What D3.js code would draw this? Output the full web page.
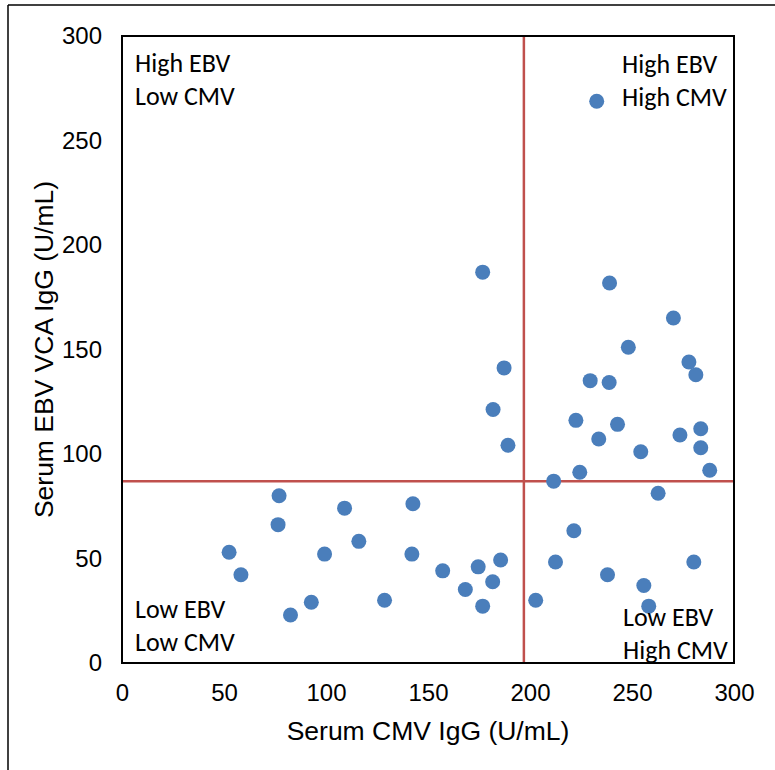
<!DOCTYPE html>
<html>
<head>
<meta charset="utf-8">
<title>EBV vs CMV</title>
<script src="https://d3js.org/d3.v7.min.js"></script>
<style>
  body { margin: 0; background: #fff; }
  .tick text { font-family: "Liberation Sans", Arial, sans-serif; font-size: 24px; fill: #000; }
  .quad { font-family: Carlito, Calibri, "Open Sans", sans-serif; font-size: 26px; fill: #000; }
</style>
</head>
<body>
<svg id="viz" width="775" height="770"></svg>
<script>
// serum CMV IgG (x) and EBV VCA IgG (y), U/mL
var cmv = [232.7, 176.8, 239.0, 270.3, 248.2, 187.3, 277.9, 281.3, 229.5, 238.8,
           181.9, 222.5, 242.9, 283.7, 233.7, 273.5, 189.2, 254.3, 283.7, 224.4,
           288.1, 211.6, 262.8, 77.0, 142.6, 109.1, 76.5, 221.5, 116.1, 52.5,
           99.3, 142.1, 185.6, 212.5, 280.3, 174.6, 157.2, 58.3, 238.0, 181.7,
           255.8, 168.3, 92.8, 128.7, 202.8, 176.8, 258.2, 82.6];
var ebv = [268.8, 187.0, 181.8, 165.1, 151.1, 141.2, 144.0, 137.9, 135.1, 134.2,
           121.3, 116.1, 114.2, 112.1, 107.2, 109.1, 104.2, 101.1, 103.0, 91.3,
           92.2, 87.0, 81.2, 80.0, 76.2, 74.1, 66.2, 63.3, 58.2, 53.0,
           52.1, 52.1, 49.3, 48.3, 48.3, 46.0, 44.1, 42.2, 42.2, 38.9,
           37.1, 35.2, 29.1, 30.0, 30.0, 27.2, 27.2, 23.0];
var xTicks = [0, 50, 100, 150, 200, 250, 300];
var yTicks = [0, 50, 100, 150, 200, 250, 300];
var cutCMV = 197;
var cutEBV = 87;

var svg = d3.select("#viz");

// outer frame (only left and top visible)
svg.append("line").attr("x1", 8).attr("y1", 5).attr("x2", 8).attr("y2", 770)
  .attr("stroke", "#000").attr("stroke-width", 1.5);
svg.append("line").attr("x1", 8).attr("y1", 5).attr("x2", 775).attr("y2", 5)
  .attr("stroke", "#000").attr("stroke-width", 1.5);

var pLeft = 122, pRight = 734, pTop = 36, pBottom = 663;
var x = d3.scaleLinear().domain([0, 300]).range([pLeft, pRight]);
var y = d3.scaleLinear().domain([0, 300]).range([pBottom, pTop]);

var xAxis = svg.append("g").attr("transform", "translate(0," + pBottom + ")")
  .call(d3.axisBottom(x).tickValues(xTicks).tickSize(0).tickPadding(21));
xAxis.select(".domain").remove();

var yAxis = svg.append("g").attr("transform", "translate(" + pLeft + ",0)")
  .call(d3.axisLeft(y).tickValues(yTicks).tickSize(0).tickPadding(20));
yAxis.select(".domain").remove();

// cut-off lines
svg.append("line")
  .attr("x1", x(cutCMV)).attr("x2", x(cutCMV)).attr("y1", pTop).attr("y2", pBottom)
  .attr("stroke", "#c0504d").attr("stroke-width", 2.5);
svg.append("line")
  .attr("x1", pLeft).attr("x2", pRight).attr("y1", y(cutEBV)).attr("y2", y(cutEBV))
  .attr("stroke", "#c0504d").attr("stroke-width", 2.5);

// plot area border
svg.append("rect").attr("x", pLeft).attr("y", pTop)
  .attr("width", pRight - pLeft).attr("height", pBottom - pTop)
  .attr("fill", "none").attr("stroke", "#000").attr("stroke-width", 2);

var pts = cmv.map(function(d, i) { return { cmv: d, ebv: ebv[i] }; });
svg.selectAll(".dot").data(pts).enter().append("circle")
  .attr("class", "dot")
  .attr("cx", function(d) { return x(d.cmv); })
  .attr("cy", function(d) { return y(d.ebv); })
  .attr("r", 7.5)
  .attr("fill", "#4a7ebb");

// quadrant labels
var quads = [
  { t: ["High EBV", "Low CMV"], x: 135, y: 72 },
  { t: ["High EBV", "High CMV"], x: 622, y: 73 },
  { t: ["Low EBV", "Low CMV"], x: 135, y: 618 },
  { t: ["Low EBV", "High CMV"], x: 623, y: 626 }
];
quads.forEach(function(q) {
  q.t.forEach(function(s, i) {
    svg.append("text").attr("class", "quad")
      .attr("x", q.x).attr("y", q.y + i * 33)
      .text(s);
  });
});

// axis titles
svg.append("text")
  .attr("x", (pLeft + pRight) / 2).attr("y", 740)
  .attr("text-anchor", "middle")
  .style("font-family", "'Liberation Sans', Arial, sans-serif").style("font-size", "26.5px")
  .text("Serum CMV IgG (U/mL)");
svg.append("text")
  .attr("transform", "translate(53," + (pTop + pBottom) / 2 + ") rotate(-90)")
  .attr("text-anchor", "middle")
  .style("font-family", "'Liberation Sans', Arial, sans-serif").style("font-size", "26.5px")
  .text("Serum EBV VCA IgG (U/mL)");
</script>
</body>
</html>
